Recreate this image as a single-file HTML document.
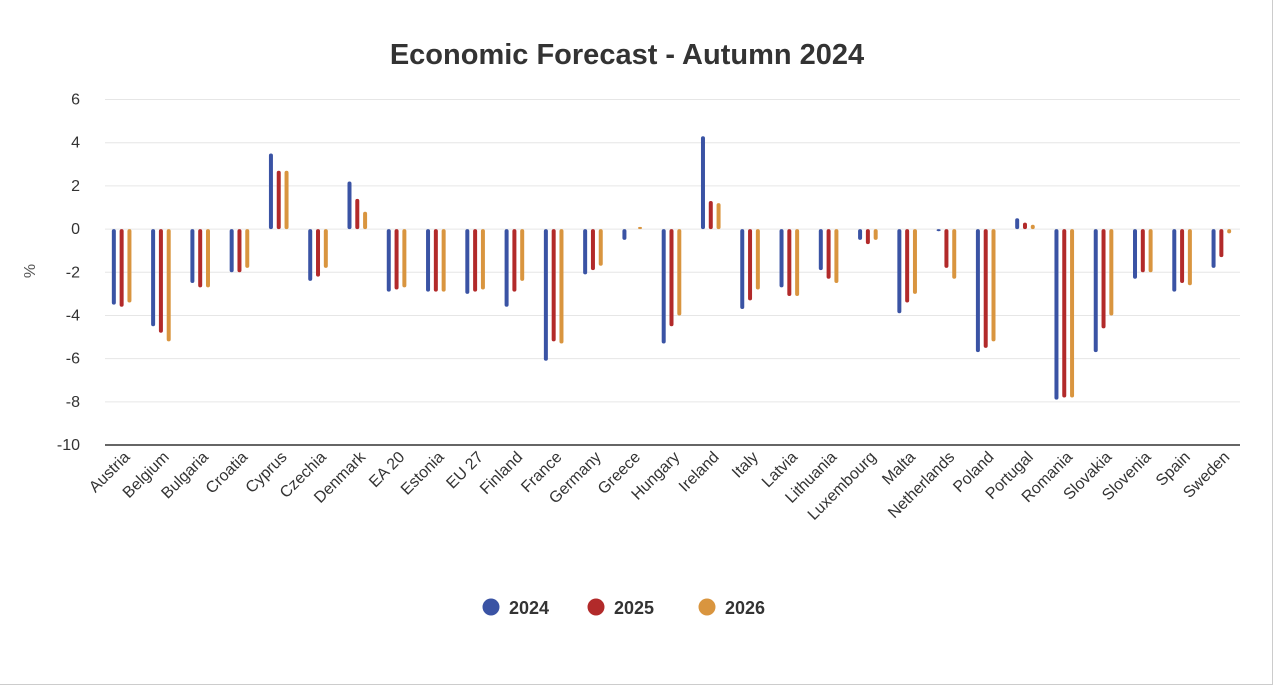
<!DOCTYPE html>
<html><head><meta charset="utf-8"><style>
body{margin:0;background:#fff;font-family:"Liberation Sans",Arial,sans-serif;}
#wrap{position:relative;width:1280px;height:687px;overflow:hidden;}
.frame{position:absolute;left:0;top:0;width:1272px;height:684px;border-right:1px solid #ccc;border-bottom:1px solid #ccc;}
</style></head><body>
<div id="wrap">
<div class="frame"></div>
<svg id="chart" width="1280" height="687" style="position:absolute;left:0;top:0">
<text x="627" y="64" text-anchor="middle" font-size="29" font-weight="bold" fill="#333">Economic Forecast - Autumn 2024</text>
<text transform="translate(35,271) rotate(-90)" text-anchor="middle" font-size="16" fill="#555">%</text>
<g id="grid"></g><g id="bars"></g><g id="xlabels"></g><g id="legend"></g>
</svg>
</div>
<script>
const categories=["Austria","Belgium","Bulgaria","Croatia","Cyprus","Czechia","Denmark","EA 20","Estonia","EU 27","Finland","France","Germany","Greece","Hungary","Ireland","Italy","Latvia","Lithuania","Luxembourg","Malta","Netherlands","Poland","Portugal","Romania","Slovakia","Slovenia","Spain","Sweden"];
const seriesNames=["2024","2025","2026"];
const values2024=[-3.5,-4.5,-2.5,-2.0,3.5,-2.4,2.2,-2.9,-2.9,-3.0,-3.6,-6.1,-2.1,-0.5,-5.3,4.3,-3.7,-2.7,-1.9,-0.5,-3.9,-0.1,-5.7,0.5,-7.9,-5.7,-2.3,-2.9,-1.8];
const values2025=[-3.6,-4.8,-2.7,-2.0,2.7,-2.2,1.4,-2.8,-2.9,-2.9,-2.9,-5.2,-1.9,0,-4.5,1.3,-3.3,-3.1,-2.3,-0.7,-3.4,-1.8,-5.5,0.3,-7.8,-4.6,-2.0,-2.5,-1.3];
const values2026=[-3.4,-5.2,-2.7,-1.8,2.7,-1.8,0.8,-2.7,-2.9,-2.8,-2.4,-5.3,-1.7,0.1,-4.0,1.2,-2.8,-3.1,-2.5,-0.5,-3.0,-2.3,-5.2,0.2,-7.8,-4.0,-2.0,-2.6,-0.2];
const yTicks=[6,4,2,0,-2,-4,-6,-8,-10];
const colors=["#3a53a4","#b22a2a","#d9953f"];
const NS="http://www.w3.org/2000/svg";
const X0=106,X1=1245,Y6=99.5,Ym10=445;
const y=v=>Y6+(6-v)*(Ym10-Y6)/16;
const bw=(X1-X0)/categories.length;
const x=i=>X0+bw*(i+0.5);
function mk(t,a){const e=document.createElementNS(NS,t);for(const k in a)e.setAttribute(k,a[k]);return e;}
const grid=document.getElementById('grid');
yTicks.forEach(t=>{
 const l=mk('line',{x1:105,x2:1240,y1:y(t),y2:y(t),stroke:t===-10?'#333':'#e6e6e6','stroke-width':t===-10?1.5:1});
 
 
 grid.appendChild(l);
 const tx=mk('text',{x:80,y:y(t)+5,'text-anchor':'end','font-size':16,fill:'#333'});
 tx.textContent=t;
 
 
 grid.appendChild(tx);
});
const bars=document.getElementById('bars');
const all=[values2024,values2025,values2026];
categories.forEach((c,i)=>{
 all.forEach((s,k)=>{
  const v=s[i];
  const cx=x(i)-4+(k-1)*7.8;
  const top=Math.min(y(v),y(0)),h=Math.max(Math.abs(y(v)-y(0)),v===0?0:2);
  const r=mk('rect',{x:cx-2,y:top,width:4,height:h,rx:2,fill:colors[k]});
  
  
  bars.appendChild(r);
 });
 const t=mk('text',{transform:`translate(${x(i)+5},${458}) rotate(-45)`,'text-anchor':'end','font-size':16,fill:'#333'});
 t.textContent=c;
 
 
 document.getElementById('xlabels').appendChild(t);
});
const lg=document.getElementById('legend');
const lx=[491,596,707];
seriesNames.forEach((n,k)=>{
 const g=mk('g',{});
 
 
 g.appendChild(mk('circle',{cx:lx[k],cy:607,r:8.5,fill:colors[k]}));
 const t=mk('text',{x:lx[k]+18,y:614,'font-size':18,'font-weight':'bold',fill:'#333'});
 t.textContent=n;
 g.appendChild(t);
 lg.appendChild(g);
});
</script>
</body></html>
